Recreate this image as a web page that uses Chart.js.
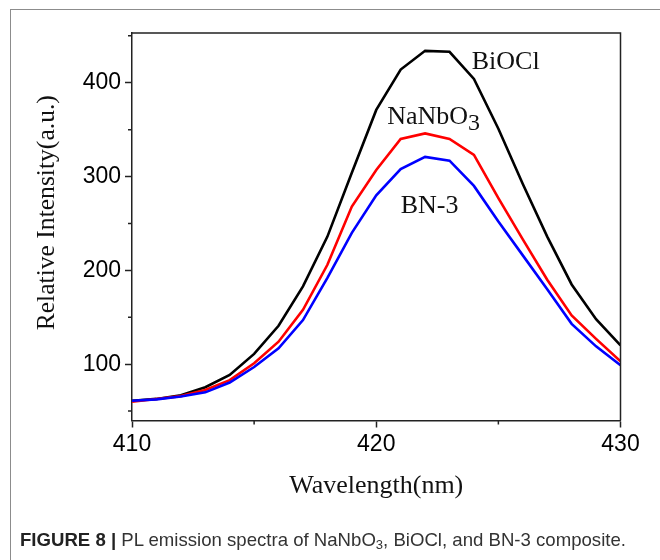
<!DOCTYPE html>
<html><head><meta charset="utf-8">
<script src="https://cdn.jsdelivr.net/npm/chart.js@4.4.0/dist/chart.umd.min.js"></script>
<style>
html,body{margin:0;padding:0;background:#fff;overflow:hidden;}
#wrap{position:relative;width:660px;height:560px;overflow:hidden;}
#frame{position:absolute;left:10px;top:9px;width:720px;height:620px;border:1px solid #8c8c8c;box-sizing:border-box;}
canvas{position:absolute;left:0;top:0;}
#cap{position:absolute;left:20px;top:528.5px;font-family:"Liberation Sans",Arial,sans-serif;font-size:18.6px;line-height:22px;color:#333;white-space:nowrap;}
#cap b{font-weight:bold;color:#222}
#cap sub{font-size:13px;vertical-align:-3px;line-height:0}
</style></head><body>
<div id="wrap"><div id="frame"></div><canvas id="c" width="660" height="560"></canvas>
<div id="cap"><b>FIGURE 8 |</b> PL emission spectra of NaNbO<sub>3</sub>, BiOCl, and BN-3 composite.</div></div>
<script>
const wavelengths = [410,411,412,413,414,415,416,417,418,419,420,421,422,423,424,425,426,427,428,429,430];
const biocl  = [61,63,67,75.5,88.5,111,141,183,236,304,371,414,434,433,404,351,292,236,185,148,120];
const nanbo3 = [60,63,66,72.5,83,101,124,158,206,268,307,340,346,340,323,277,233,190,152,127,103];
const bn3    = [61,62.5,65.5,70,80.5,97,117,147,192,240,280,308,321,317,290,252,216,180,143,119,99];
const xTicks = [410,420,430];
const yTicks = [100,200,300,400];
const xMinor = [415,425];
const yMinor = [50,150,250,350,450];
const yTitle = 'Relative Intensity(a.u.)';
const curveLabels = [
  {text:'BiOCl', sub:'', x:423.91, y:414.3},
  {text:'NaNbO', sub:'3', x:420.45, y:355.7},
  {text:'BN-3', sub:'', x:421.0, y:260.9}
];

const pts = arr => wavelengths.map((w,i)=>({x:w,y:arr[i]}));

const boxPlugin = {
  id:'box',
  afterDraw(chart){
    const {ctx, chartArea:a, scales:{x,y}} = chart;
    ctx.save();
    ctx.strokeStyle='#222'; ctx.lineWidth=1.5;
    ctx.beginPath(); ctx.moveTo(a.left,a.top); ctx.lineTo(a.right,a.top); ctx.lineTo(a.right,a.bottom); ctx.stroke();
    ctx.beginPath();
    xMinor.forEach(v=>{const px=x.getPixelForValue(v); ctx.moveTo(px,a.bottom); ctx.lineTo(px,a.bottom+4);});
    yMinor.forEach(v=>{const py=y.getPixelForValue(v); ctx.moveTo(a.left,py); ctx.lineTo(a.left-4,py);});
    ctx.stroke();
    ctx.fillStyle='#111'; ctx.textBaseline='alphabetic'; ctx.textAlign='left';
    curveLabels.forEach(l=>{
      const px=x.getPixelForValue(l.x), py=y.getPixelForValue(l.y);
      ctx.font='26px "Liberation Serif"'; ctx.fillText(l.text,px,py);
      if(l.sub){const w=ctx.measureText(l.text).width; ctx.font='24px "Liberation Serif"'; ctx.fillText(l.sub,px+w,py+6);}
    });
    // y-axis title, centred slightly above the plot middle as in the original
    ctx.save();
    ctx.translate(47, (a.top+a.bottom)/2 - 14);
    ctx.rotate(-Math.PI/2);
    ctx.font='25.6px "Liberation Serif"'; ctx.textAlign='center'; ctx.textBaseline='middle';
    ctx.fillText(yTitle,0,0);
    ctx.restore();
    ctx.restore();
  }
};

new Chart(document.getElementById('c'), {
  type:'line',
  data:{datasets:[
    {label:'BN-3', data:pts(bn3), borderColor:'#0000ff', borderWidth:2.6, pointRadius:0, tension:0, fill:false},
    {label:'NaNbO3', data:pts(nanbo3), borderColor:'#ff0000', borderWidth:2.6, pointRadius:0, tension:0, fill:false},
    {label:'BiOCl', data:pts(biocl), borderColor:'#000000', borderWidth:2.6, pointRadius:0, tension:0, fill:false}
  ]},
  options:{
    responsive:false, animation:false, devicePixelRatio:1,
    layout:{padding:{left:0, top:33, right:39.5, bottom:0}},
    plugins:{legend:{display:false}, tooltip:{enabled:false}},
    scales:{
      x:{type:'linear', min:410, max:430,
        afterBuildTicks:s=>{s.ticks = xTicks.map(v=>({value:v}));},
        afterFit:s=>{s.height=139.5;},
        ticks:{font:{family:'Liberation Sans', size:23}, color:'#000', padding:3, maxRotation:0, autoSkip:false},
        grid:{drawOnChartArea:false, tickLength:7, tickWidth:1.5, tickColor:'#222'},
        border:{color:'#222', width:1.5},
        title:{display:true, text:'Wavelength(nm)', font:{family:'Liberation Serif', size:26, lineHeight:1.2}, color:'#111', padding:{top:0,bottom:58}}
      },
      y:{type:'linear', min:40, max:453,
        afterBuildTicks:s=>{s.ticks = yTicks.map(v=>({value:v}));},
        afterFit:s=>{s.width=132;},
        ticks:{font:{family:'Liberation Sans', size:23}, color:'#000', padding:4},
        grid:{drawOnChartArea:false, tickLength:7, tickWidth:1.5, tickColor:'#222'},
        border:{color:'#222', width:1.5},
        title:{display:false, text:yTitle}
      }
    }
  },
  plugins:[boxPlugin]
});
</script></body></html>
